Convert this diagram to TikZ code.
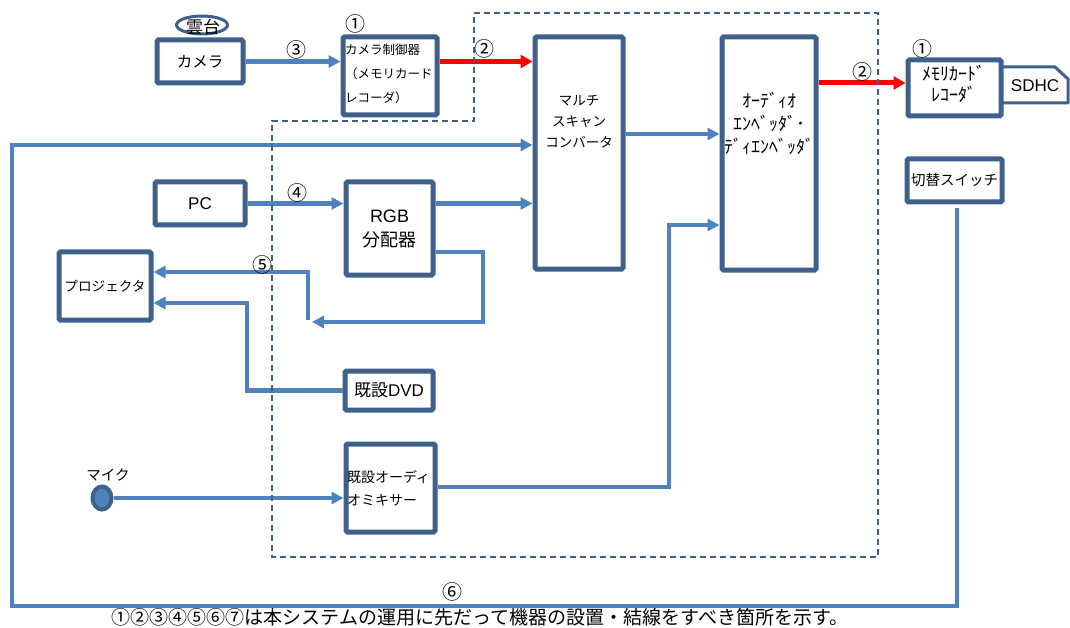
\documentclass[tikz,border=0pt]{standalone}
\usepackage{fontspec}
\setmainfont{Noto Sans CJK JP}
\newfontfamily\lat{Liberation Sans}
\usetikzlibrary{arrows.meta,calc,shapes.geometric}
\definecolor{boxc}{RGB}{61,96,140}
\definecolor{linec}{RGB}{79,129,189}
\definecolor{redc}{RGB}{255,0,0}
\newcommand{\fs}[2]{\fontsize{#1}{#2}\selectfont}
\begin{document}
\begin{tikzpicture}[x=1pt,y=-1pt,
  box/.style={draw=boxc,line width=5pt,fill=white,rounded corners=1.5pt,inner sep=0pt,align=center},
  conn/.style={draw=linec,line width=4.5pt,-{Triangle[length=12pt,width=12pt]}},
  redconn/.style={draw=redc,line width=5pt,-{Triangle[length=12pt,width=13pt]}},
  num/.style={inner sep=0pt,font=\fs{20}{20}},
  txt/.style={inner sep=0pt}
]
\useasboundingbox (0,0) rectangle (1070,628);

% ---- boxes ----
\node[draw=boxc,line width=3pt,fill=white,ellipse,minimum width=51pt,minimum height=18pt,inner sep=0pt] (ptz) at (202,25) {};
\node[txt,font=\fs{17}{17}] (ptzt) at (203,27) {雲台};
\node[box,minimum width=86pt,minimum height=43pt,font=\fs{15.5}{16}] (cam) at (200,61.5) {カメラ};
\node[box,minimum width=94pt,minimum height=78pt] (ctrl) at (390,76) {};
\node[txt,anchor=west,align=left,font=\fs{12.5}{24}] (ctrlt) at (345,74) {カメラ制御器\\（メモリカード\\レコーダ）};
\node[box,minimum width=88pt,minimum height=232pt] (ms) at (579,153) {};
\node[txt,align=center,font=\fs{13.5}{21}] (mst) at (579,122) {マルチ\\スキャン\\コンバータ};
\node[box,minimum width=94pt,minimum height=233pt] (emb) at (769,153.5) {};
\node[txt,align=center,font=\fs{18}{23}] (embt) at (769,123) {ｵｰﾃﾞｨｵ\\ｴﾝﾍﾞｯﾀﾞ･\\ﾃﾞｨｴﾝﾍﾞｯﾀﾞ};

\draw[boxc,line width=3pt,fill=white,line join=round] (1000,67) -- (1055,67) -- (1068,79) -- (1068,103) -- (1000,103) -- cycle;
\node[txt,font=\lat\fs{17}{17}] (sdhc) at (1035,86) {SDHC};
\node[box,minimum width=93pt,minimum height=56pt] (mem) at (954.5,88) {};
\node[txt,align=center,font=\fs{18}{21}] (memt) at (954,84) {ﾒﾓﾘｶｰﾄﾞ\\ﾚｺｰﾀﾞ};
\node[box,minimum width=95pt,minimum height=43pt,font=\fs{14.5}{15}] (sw) at (954.5,180.5) {切替スイッチ};

\node[box,minimum width=90pt,minimum height=43pt,font=\lat\fs{17}{17}] (pc) at (200,203.5) {PC};
\node[box,minimum width=87pt,minimum height=93pt,font=\fs{18}{24}] (rgb) at (389.5,228.5) {{\lat RGB}\\分配器};
\node[box,minimum width=92pt,minimum height=68pt,font=\fs{13.6}{14}] (proj) at (105,286) {プロジェクタ};
\node[box,minimum width=88pt,minimum height=39pt,font=\fs{17}{17}] (dvd) at (389,390.5) {既設{\lat DVD}};
\node[box,minimum width=89pt,minimum height=88pt] (mix) at (390.5,488) {};
\node[txt,anchor=west,align=left,font=\fs{14}{23}] (mixt) at (347,488.5) {既設オーディ\\オミキサー};

\node[draw=boxc,line width=4pt,fill=linec,ellipse,minimum width=19pt,minimum height=23pt,inner sep=0pt] (mic) at (102,498) {};
\node[txt,font=\fs{14.5}{14}] (mict) at (108,475) {マイク};

% ---- connectors ----
\draw[conn] (cam.east) -- (cam.east -| ctrl.west);
\draw[redconn] (ctrl.east |- cam.east) -- (ms.west |- cam.east);
\coordinate (r2) at ($(mem.west)+(0,-5)$);
\draw[redconn] (emb.east |- r2) -- (r2);
\draw[conn] (ms.east |- 0,134) -- (emb.west |- 0,134);

\coordinate (s6a) at (957,208);
\coordinate (s6b) at (957,606);
\coordinate (s6c) at (12,606);
\coordinate (s6d) at (12,145);
\draw[conn] (s6a) -- (s6b) -- (s6c) -- (s6d) -- (ms.west |- s6d);

\draw[conn] (pc.east) -- (rgb.west |- pc.east);
\draw[conn] (rgb.east |- pc.east) -- (ms.west |- pc.east);

\coordinate (l5a) at (483,252);
\coordinate (l5b) at (483,322);
\coordinate (l5c) at (312,322);
\draw[conn] (rgb.east |- l5a) -- (l5a) -- (l5b) -- (l5c);
\coordinate (p5a) at (308,320);
\coordinate (p5b) at (308,272);
\draw[conn] (p5a) -- (p5b) -- (proj.east |- p5b);

\coordinate (dva) at (247,390.5);
\coordinate (dvb) at (247,303);
\draw[conn] (dvd.west) -- (dva) -- (dvb) -- (proj.east |- dvb);

\draw[conn] (mic.east) -- (mix.west |- mic.east);

\coordinate (mxa) at (669,487);
\coordinate (mxb) at (669,225);
\draw[conn] (mix.east |- mxa) -- (mxa) -- (mxb) -- (emb.west |- mxb);

% ---- dashed boundary ----
\draw[boxc,line width=2pt,dash pattern=on 6pt off 4pt] (474,13) -- (878,13) -- (878,557) -- (272,557) -- (272,121) -- (474,121) -- cycle;

% ---- numbers ----
\node[num] (n1a) at (355,24) {①};
\node[num] (n2a) at (484,49) {②};
\node[num] (n3) at (296,50) {③};
\node[num] (n1b) at (922,49) {①};
\node[num] (n2b) at (862,72) {②};
\node[num] (n4) at (297,193) {④};
\node[num] (n5) at (262,265) {⑤};
\node[num] (n6) at (452,592) {⑥};

\node[txt,font=\fs{19}{19}] (note) at (480,617) {①②③④⑤⑥⑦は本システムの運用に先だって機器の設置・結線をすべき箇所を示す。};
\end{tikzpicture}
\end{document}
